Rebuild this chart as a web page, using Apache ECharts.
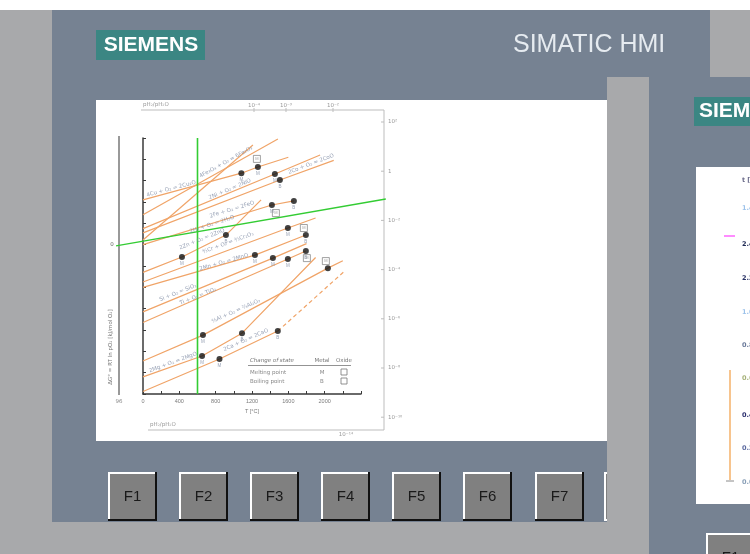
<!DOCTYPE html>
<html>
<head>
<meta charset="utf-8">
<script src="https://cdn.jsdelivr.net/npm/echarts@6/dist/echarts.min.js"></script>
<style>
  html, body { margin: 0; padding: 0; background: #fff; }
  #chart { width: 750px; height: 554px; }
</style>
</head>
<body>
<div id="chart"></div>
<script>
// axis ranges
const tempRange = [0, 2400]
const tempStep = 400
const dgRange = [-1200, 0]
const dgStep = 100

// oxide lines, [T °C, ΔG° kJ/mol O2]
const cuLine = [[0, -290], [1083, -165], [1265, -136], [1600, -90]]
const fe2o3Line = [[0, -360], [1485, -5]]
const h2Line = [[0, -478], [1210, -33]]
const niLine = [[0, -425], [1452, -169], [1950, -80]]
const coLine = [[0, -445], [1507, -197], [2100, -105]]
const feLine = [[0, -500], [1419, -314], [1661, -295]]
const znLine = [[0, -630], [429, -558], [913, -455], [1300, -290]]
const crLine = [[0, -675], [1595, -422], [1900, -375]]
const mnLine = [[0, -700], [1232, -549], [1793, -455]]
const siLine = [[0, -815], [1430, -563], [1800, -495]]
const tiLine = [[0, -865], [1595, -567], [1793, -530]]
const alLine = [[0, -1045], [660, -924], [2035, -610], [2200, -575]]
const mgLine = [[0, -1120], [650, -1022], [1090, -915], [1900, -560]]
const caLine = [[0, -1188], [842, -1036], [1484, -905]]
const caGasLine = [[1484, -905], [2230, -620]]

// green cursor lines
const tempCursor = [[600, 0], [600, -1200]]
const pressCursor = [[-297, -506], [2673, -286]]

// change of state points (metal = dot, oxide = box)
const metalPoints = [[1083, -165], [1265, -136], [1452, -169], [1507, -197], [1419, -314], [1661, -295],
  [913, -455], [429, -558], [1595, -422], [1793, -455], [1232, -549], [1430, -563], [1595, -567],
  [1793, -530], [2035, -610], [660, -924], [650, -1022], [1090, -915], [842, -1036], [1484, -905]]
const metalTags = ['M', 'M', 'M', 'B', 'M', 'B', 'B', 'M', 'M', 'B', 'M', 'M', 'M', 'B', '', 'M', 'M', 'B', 'M', 'B']
const oxidePoints = [[1254, -98], [1463, -352], [1771, -422], [1804, -563], [2013, -577]]
const oxideTags = ['M', 'M', 'M', 'M', 'M']

// reaction labels
const reactionNames = ['4Cu + O₂ = 2Cu₂O', '4Fe₃O₄ + O₂ = 6Fe₂O₃', '2Ni + O₂ = 2NiO', '2Co + O₂ = 2CoO',
  '2Fe + O₂ = 2FeO', '2H₂ + O₂ = 2H₂O', '2Zn + O₂ = 2ZnO', '⁴⁄₃Cr + O₂ = ²⁄₃Cr₂O₃', '2Mn + O₂ = 2MnO',
  'Si + O₂ = SiO₂', 'Ti + O₂ = TiO₂', '⁴⁄₃Al + O₂ = ²⁄₃Al₂O₃', '2Mg + O₂ = 2MgO', '2Ca + O₂ = 2CaO']
const reactionAnchors = [[310, -238], [913, -113], [957, -240], [1850, -122], [980, -335], [760, -405],
  [649, -474], [935, -492], [891, -582], [385, -725], [605, -742], [1023, -811], [330, -1052], [1133, -947]]
const reactionTilt = [15, 29, 23, 21, 17, 18, 22, 20, 16, 22, 22, 24, 20, 24]

// secondary scales and side panel texts
const topScale = ['10⁻⁴', '10⁻³', '10⁻²']
const rightScale = ['10²', '1', '10⁻²', '10⁻⁴', '10⁻⁶', '10⁻⁸', '10⁻¹⁰']
const keyLabels = ['F1', 'F2', 'F3', 'F4', 'F5', 'F6', 'F7']
const sideTicks = ['t [s]', '1.4', '2.4', '2.2', '1.0', '0.8', '0.6', '0.4', '0.2', '0.0']

const ORANGE = '#f0a468'
const GREEN = '#33cc33'
const SLATE = '#768292'
const GREY = '#a8a9ab'
const TEAL = '#3b8683'
const INK = '#7d8aa3'

const chart = echarts.init(document.getElementById('chart'))

const oxideLines = [cuLine, fe2o3Line, h2Line, niLine, coLine, feLine, znLine, crLine, mnLine,
  siLine, tiLine, alLine, mgLine, caLine]

const series = oxideLines.map(d => ({
  type: 'line', data: d, symbol: 'none', silent: true, z: 3,
  lineStyle: { color: ORANGE, width: 1.2 },
}))
series.push({
  type: 'line', data: caGasLine, symbol: 'none', silent: true, z: 3,
  lineStyle: { color: ORANGE, width: 1.2, type: [4, 3] },
})
series.push({
  type: 'line', data: tempCursor, symbol: 'none', silent: true, z: 4,
  lineStyle: { color: GREEN, width: 1.6 },
})
// this one runs past the plot frame on both sides, so no clamping
series.push({
  type: 'custom', silent: true, z: 4, clip: false,
  data: [0],
  renderItem: (params, api) => ({
    type: 'polyline',
    shape: { points: pressCursor.map(p => api.coord(p)) },
    style: { stroke: GREEN, lineWidth: 1.3, fill: null },
  }),
})
series.push({
  type: 'scatter', silent: true, z: 6, symbolSize: 6,
  itemStyle: { color: '#111' },
  data: metalPoints.map((p, i) => ({ value: p, name: metalTags[i] })),
  label: { show: true, formatter: '{b}', position: 'bottom', distance: 1, fontSize: 4.5, color: INK },
})
series.push({
  type: 'scatter', silent: true, z: 6, symbol: 'rect', symbolSize: 7,
  itemStyle: { color: '#fff', borderColor: '#6d6d6d', borderWidth: 0.8 },
  data: oxidePoints.map((p, i) => ({ value: p, name: oxideTags[i] })),
  label: { show: true, formatter: '{b}', position: 'inside', fontSize: 4, color: '#888' },
})
series.push({
  type: 'scatter', silent: true, z: 5, symbolSize: 1,
  itemStyle: { color: 'rgba(0,0,0,0)' },
  data: reactionAnchors.map((p, i) => ({
    value: p, name: reactionNames[i],
    label: { rotate: reactionTilt[i] },
  })),
  label: {
    show: true, formatter: '{b}', position: 'inside',
    fontSize: 5.5, fontFamily: 'DejaVu Sans', color: INK,
  },
})

// HMI frame drawn as plain shapes, listed back to front
const txt = (x, y, text, font, fill, align, extra) => Object.assign({
  type: 'text', silent: true,
  style: { x, y, text, font, fill, textAlign: align || 'left', textVerticalAlign: 'middle' },
}, extra || {})
const box = (x, y, w, h, fill) => ({
  type: 'rect', silent: true, shape: { x, y, width: w, height: h }, style: { fill },
})
const seg = (pts, stroke, w) => ({
  type: 'polyline', silent: true, shape: { points: pts }, style: { stroke, lineWidth: w, fill: null },
})
const fkey = (x, y, label) => [
  box(x, y, 49, 49, '#111'),
  box(x, y, 47, 47, '#ffffff'),
  box(x + 2, y + 2, 45, 45, '#808080'),
  txt(x + 24.5, y + 25, label, '15px "Liberation Sans"', '#1a1a1a', 'center'),
]

const graphic = [
  box(0, 10, 52, 544, GREY),
  box(52, 10, 658, 512, SLATE),
  box(710, 10, 40, 67, GREY),
  box(0, 522, 607, 32, GREY),
  box(649, 77, 101, 477, SLATE),
  box(607, 77, 42, 477, GREY),
  box(96, 100, 511, 341, '#ffffff'),
  box(96, 30, 109, 30, TEAL),
  txt(151, 45.5, 'SIEMENS', 'bold 21px "Liberation Sans"', '#ffffff', 'center'),
  txt(513, 45.5, 'SIMATIC HMI', '25px "Liberation Sans"', '#e6ebf0', 'left'),
]

const keyX = [108, 179, 250, 321, 392, 463, 535]
keyX.forEach((x, i) => graphic.push(...fkey(x, 472, keyLabels[i])))
// sliver of the next key, hidden behind the grey column
graphic.push(box(604, 472, 3, 49, '#ffffff'), box(606, 474, 1, 45, '#808080'))

// right panel (second screen, cut off)
graphic.push(box(694, 97, 56, 29, TEAL))
graphic.push(txt(699, 111.5, 'SIEMENS', 'bold 21px "Liberation Sans"', '#ffffff', 'left'))
graphic.push(box(696, 167, 54, 337, '#ffffff'))
const sideY = [180, 208, 244, 278, 312, 345, 378, 415, 448, 482]
const sideColors = ['#6b6b8a', '#9cc2ea', '#1f2a55', '#2a3366', '#9cc2ea', '#6a7a9a', '#a7b27a', '#2b2f6e', '#5c6aa0', '#8aa0b8']
sideTicks.forEach((t, i) => graphic.push(txt(742, sideY[i], t, 'bold 6.5px "DejaVu Sans"', sideColors[i], 'left')))
graphic.push(seg([[724, 236], [735, 236]], '#ff66ff', 1.5))
graphic.push(seg([[730, 370], [730, 480]], '#f7c48e', 2))
graphic.push(seg([[726, 481], [734, 481]], '#8a8a8a', 1))
graphic.push(...fkey(706, 533, 'F1'))

// decoration around the diagram
const small = '5.5px "DejaVu Sans"'
graphic.push(seg([[119, 136], [119, 395]], '#555', 1.2))
graphic.push(txt(112, 245, '0', small, '#666', 'center'))
graphic.push(txt(119, 402, '96', small, '#888', 'center'))
graphic.push(seg([[141, 110], [384, 110], [384, 430], [148, 430]], '#bdbdbd', 1))
graphic.push(txt(143, 104.5, 'pH₂/pH₂O', small, '#999', 'left'))
graphic.push(txt(150, 425, 'pH₂/pH₂O', small, '#999', 'left'))
graphic.push(txt(346, 434.5, '10⁻¹⁴', small, '#999', 'center'))
const topX = [254, 286, 333]
topScale.forEach((t, i) => {
  graphic.push(txt(topX[i], 106, t, small, '#999', 'center'))
  graphic.push(seg([[topX[i], 108], [topX[i], 112]], '#bdbdbd', 1))
})
rightScale.forEach((t, i) => {
  graphic.push(txt(388, 122 + i * 49.2, t, small, '#999', 'left'))
  graphic.push(seg([[381, 122 + i * 49.2], [384, 122 + i * 49.2]], '#bdbdbd', 1))
})
graphic.push(txt(0, 0, 'ΔG° = RT ln pO₂ [kJ/mol O₂]', small, '#777', 'center',
  { x: 111, y: 347, rotation: Math.PI / 2 }))

// key for change of state
graphic.push(txt(250, 361, 'Change of state', 'italic ' + small, '#777', 'left'))
graphic.push(txt(322, 361, 'Metal', small, '#777', 'center'))
graphic.push(txt(344, 361, 'Oxide', small, '#777', 'center'))
graphic.push(seg([[248, 365.5], [351, 365.5]], '#777', 0.8))
graphic.push(txt(250, 372.5, 'Melting point', small, '#888', 'left'))
graphic.push(txt(322, 372.5, 'M', small, '#888', 'center'))
graphic.push(txt(250, 381.5, 'Boiling point', small, '#888', 'left'))
graphic.push(txt(322, 381.5, 'B', small, '#888', 'center'))
graphic.push({ type: 'rect', silent: true, shape: { x: 341, y: 369, width: 6, height: 6 }, style: { fill: '#fff', stroke: '#777', lineWidth: 0.8 } })
graphic.push({ type: 'rect', silent: true, shape: { x: 341, y: 378, width: 6, height: 6 }, style: { fill: '#fff', stroke: '#777', lineWidth: 0.8 } })

const option = {
  animation: false,
  backgroundColor: '#ffffff',
  grid: {
    left: 143, top: 138, width: 218, height: 256,
    show: true, borderColor: '#3a3a3a', borderWidth: 1.5, backgroundColor: 'transparent',
  },
  xAxis: {
    type: 'value', min: tempRange[0], max: tempRange[1], interval: tempStep,
    axisLine: { onZero: false, lineStyle: { color: '#3a3a3a', width: 1.5 } },
    axisTick: { inside: true, length: 3, lineStyle: { color: '#3a3a3a' } },
    minorTick: { show: true, splitNumber: 2, length: 3, lineStyle: { color: '#3a3a3a' } },
    axisLabel: { fontSize: 5.5, color: '#7a7a7a', margin: 4, showMaxLabel: false,
      formatter: v => (v >= tempRange[1] ? '' : String(v)) },
    splitLine: { show: false },
    name: 'T [°C]', nameLocation: 'middle', nameGap: 14,
    nameTextStyle: { fontSize: 5.5, color: '#7a7a7a' },
  },
  yAxis: {
    type: 'value', min: dgRange[0], max: dgRange[1], interval: dgStep,
    axisLine: { onZero: false, lineStyle: { color: '#3a3a3a', width: 1.5 } },
    axisTick: { inside: true, length: 3, lineStyle: { color: '#3a3a3a' } },
    axisLabel: { show: false },
    splitLine: { show: false },
  },
  // graphic sits under the grid so the plot draws over the white panel
  graphic: { z: -10, elements: graphic },
  series,
}

chart.setOption(option)
</script>
</body>
</html>
